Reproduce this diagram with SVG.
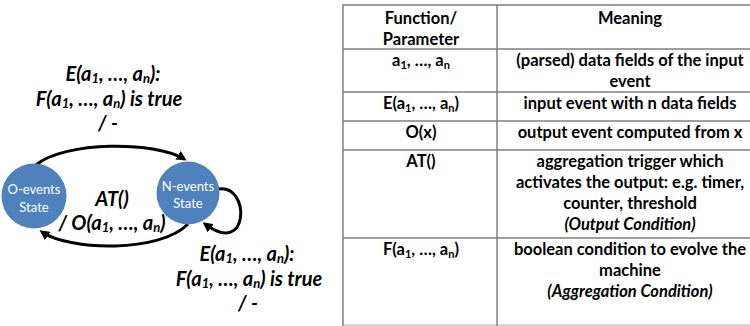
<svg xmlns="http://www.w3.org/2000/svg" width="750" height="326" viewBox="0 0 750 326">
<style>
.lbl{font-family:Lato,"Liberation Sans",sans-serif;font-weight:bold;font-style:italic;font-size:20px;fill:#000;text-anchor:middle}
.lbl .sub{font-size:13px}
.st{font-family:Lato,"Liberation Sans",sans-serif;font-size:13px;fill:#fff;text-anchor:middle}
.tb{font-family:Lato,"Liberation Sans",sans-serif;font-weight:bold;font-size:16.5px;fill:#000;text-anchor:middle}
.it{font-style:italic}
.sub{font-size:11px}
.edge{fill:none;stroke:#000;stroke-width:3}
.grid{stroke:#7f7f7f;stroke-width:1.5}
.node{fill:#4f81bd}
</style>
<defs>
<marker id="ah" markerWidth="10" markerHeight="10" refX="7" refY="5" orient="auto" markerUnits="userSpaceOnUse">
<path d="M0,0 L10,5 L0,10 z" fill="#000"/>
</marker>
</defs>
<g id="connectors">
<path class="edge" d="M36,165 C65,141 155,141 184,159" marker-end="url(#ah)"/>
<path class="edge" d="M188,224 C160,253 70,251 42,232" marker-end="url(#ah)"/>
<path class="edge" d="M219,189 C250,184 250,258 205,224" marker-end="url(#ah)"/>
</g>
<g id="node-0events">
<circle class="node" cx="34" cy="196" r="32.5"/>
<text class="st" x="34" y="194">O-events</text>
<text class="st" x="34" y="212">State</text>
</g>
<g id="node-nevents">
<circle class="node" cx="188" cy="193" r="31.5"/>
<text class="st" x="188" y="191">N-events</text>
<text class="st" x="188" y="208">State</text>
</g>
<g id="label-top">
<text class="lbl" x="113" y="81">E(a<tspan class="sub" dy="2">1</tspan><tspan dy="-2">, …, a</tspan><tspan class="sub" dy="2">n</tspan><tspan dy="-2">):</tspan></text>
<text class="lbl" x="109" y="106">F(a<tspan class="sub" dy="2">1</tspan><tspan dy="-2">, …, a</tspan><tspan class="sub" dy="2">n</tspan><tspan dy="-2">) is true</tspan></text>
<text class="lbl" x="108" y="130">/ -</text>
</g>
<g id="label-mid">
<text class="lbl" x="112" y="206">AT()</text>
<text class="lbl" x="112" y="230">/ O(a<tspan class="sub" dy="2">1</tspan><tspan dy="-2">, …, a</tspan><tspan class="sub" dy="2">n</tspan><tspan dy="-2">)</tspan></text>
</g>
<g id="label-loop">
<text class="lbl" x="247" y="261">E(a<tspan class="sub" dy="2">1</tspan><tspan dy="-2">, …, a</tspan><tspan class="sub" dy="2">n</tspan><tspan dy="-2">):</tspan></text>
<text class="lbl" x="249" y="286">F(a<tspan class="sub" dy="2">1</tspan><tspan dy="-2">, …, a</tspan><tspan class="sub" dy="2">n</tspan><tspan dy="-2">) is true</tspan></text>
<text class="lbl" x="248" y="310">/ -</text>
</g>
<g id="table">
<line class="grid" x1="343" y1="5" x2="750" y2="5"/>
<line class="grid" x1="343" y1="49" x2="750" y2="49"/>
<line class="grid" x1="343" y1="92" x2="750" y2="92"/>
<line class="grid" x1="343" y1="121" x2="750" y2="121"/>
<line class="grid" x1="343" y1="150" x2="750" y2="150"/>
<line class="grid" x1="343" y1="238" x2="750" y2="238"/>
<line x1="343" y1="325" x2="750" y2="325" stroke="#c8c8c8" stroke-width="1.5"/>
<line class="grid" x1="343" y1="4.25" x2="343" y2="326"/>
<line class="grid" x1="497" y1="5" x2="497" y2="326"/>
<text class="tb" x="421" y="24">Function/</text>
<text class="tb" x="421" y="45">Parameter</text>
<text class="tb" x="630" y="24">Meaning</text>
<text class="tb" x="421" y="66">a<tspan class="sub" dy="3">1</tspan><tspan dy="-3">, …, a</tspan><tspan class="sub" dy="3">n</tspan></text>
<text class="tb" x="630" y="66">(parsed) data fields of the input</text>
<text class="tb" x="630" y="87">event</text>
<text class="tb" x="421" y="109">E(a<tspan class="sub" dy="3">1</tspan><tspan dy="-3">, …, a</tspan><tspan class="sub" dy="3">n</tspan><tspan dy="-3">)</tspan></text>
<text class="tb" x="630" y="109">input event with n data fields</text>
<text class="tb" x="421" y="138">O(x)</text>
<text class="tb" x="630" y="138">output event computed from x</text>
<text class="tb" x="421" y="167">AT()</text>
<text class="tb" x="630" y="167">aggregation trigger which</text>
<text class="tb" x="630" y="188">activates the output: e.g. timer,</text>
<text class="tb" x="630" y="209">counter, threshold</text>
<text class="tb it" x="630" y="230">(Output Condition)</text>
<text class="tb" x="421" y="255">F(a<tspan class="sub" dy="3">1</tspan><tspan dy="-3">, …, a</tspan><tspan class="sub" dy="3">n</tspan><tspan dy="-3">)</tspan></text>
<text class="tb" x="630" y="255">boolean condition to evolve the</text>
<text class="tb" x="630" y="276">machine</text>
<text class="tb it" x="630" y="297">(Aggregation Condition)</text>
</g>
</svg>
